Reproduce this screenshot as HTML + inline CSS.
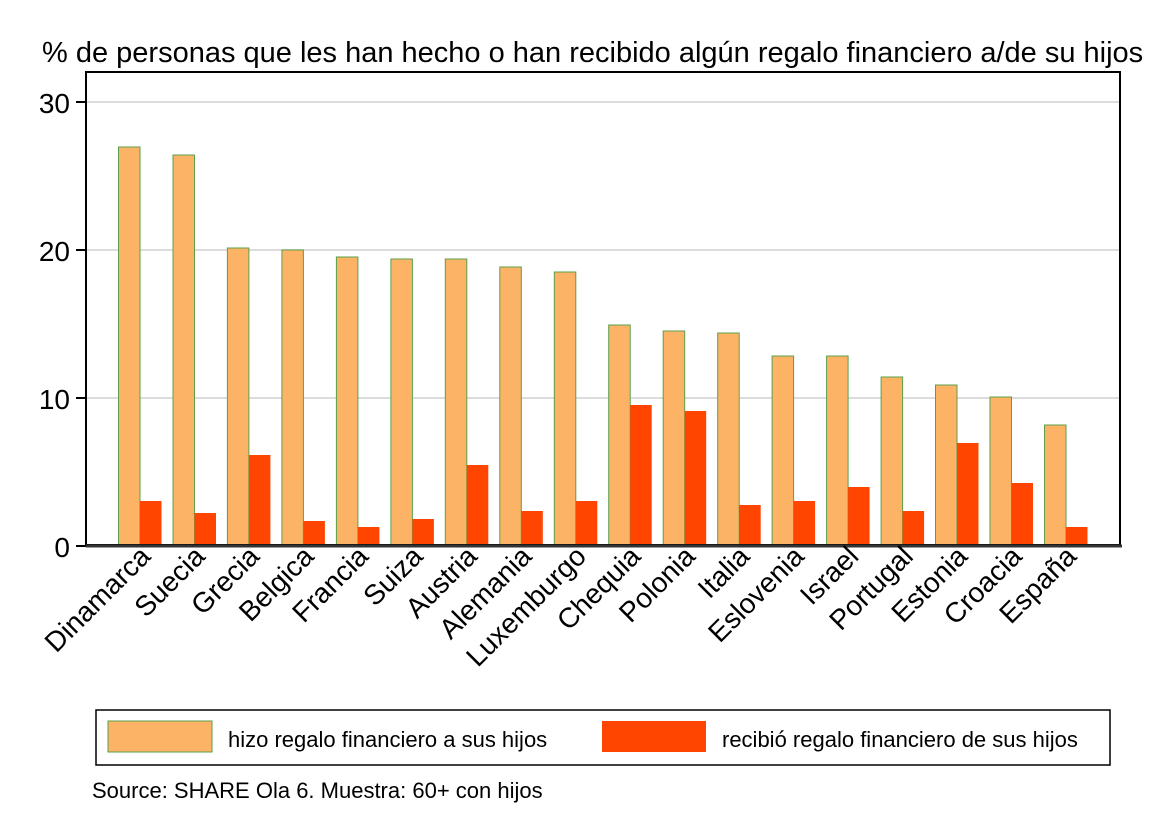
<!DOCTYPE html>
<html><head><meta charset="utf-8"><style>body{margin:0;background:#fff}svg{display:block;font-family:"Liberation Sans",sans-serif}</style></head><body>
<svg width="1152" height="838" xmlns="http://www.w3.org/2000/svg">
<text x="42" y="62" font-size="29">% de personas que les han hecho o han recibido algún regalo financiero a/de su hijos</text>
<g stroke="#dcdcdc" stroke-width="2"><line x1="87" x2="1120" y1="102" y2="102"/><line x1="87" x2="1120" y1="250" y2="250"/><line x1="87" x2="1120" y1="398" y2="398"/></g>
<g fill="#fdb366" stroke="#5aa04a" stroke-width="1">
<rect x="118.5" y="147" width="21.5" height="398"/>
<rect x="173" y="155" width="21.5" height="390"/>
<rect x="227.4" y="248" width="21.5" height="297"/>
<rect x="281.9" y="250" width="21.5" height="295"/>
<rect x="336.4" y="257" width="21.5" height="288"/>
<rect x="390.9" y="259" width="21.5" height="286"/>
<rect x="445.3" y="259" width="21.5" height="286"/>
<rect x="499.8" y="267" width="21.5" height="278"/>
<rect x="554.3" y="272" width="21.5" height="273"/>
<rect x="608.7" y="325" width="21.5" height="220"/>
<rect x="663.2" y="331" width="21.5" height="214"/>
<rect x="717.7" y="333" width="21.5" height="212"/>
<rect x="772.1" y="356" width="21.5" height="189"/>
<rect x="826.6" y="356" width="21.5" height="189"/>
<rect x="881.1" y="377" width="21.5" height="168"/>
<rect x="935.5" y="385" width="21.5" height="160"/>
<rect x="990" y="397" width="21.5" height="148"/>
<rect x="1044.5" y="425" width="21.5" height="120"/>
</g>
<g fill="#ff4500">
<rect x="140" y="501" width="21.5" height="44"/>
<rect x="194.5" y="513" width="21.5" height="32"/>
<rect x="248.9" y="455" width="21.5" height="90"/>
<rect x="303.4" y="521" width="21.5" height="24"/>
<rect x="357.9" y="527" width="21.5" height="18"/>
<rect x="412.4" y="519" width="21.5" height="26"/>
<rect x="466.8" y="465" width="21.5" height="80"/>
<rect x="521.3" y="511" width="21.5" height="34"/>
<rect x="575.8" y="501" width="21.5" height="44"/>
<rect x="630.2" y="405" width="21.5" height="140"/>
<rect x="684.7" y="411" width="21.5" height="134"/>
<rect x="739.2" y="505" width="21.5" height="40"/>
<rect x="793.6" y="501" width="21.5" height="44"/>
<rect x="848.1" y="487" width="21.5" height="58"/>
<rect x="902.6" y="511" width="21.5" height="34"/>
<rect x="957" y="443" width="21.5" height="102"/>
<rect x="1011.5" y="483" width="21.5" height="62"/>
<rect x="1066" y="527" width="21.5" height="18"/>
</g>
<rect x="86" y="72" width="1034" height="473" fill="none" stroke="#000" stroke-width="2"/>
<line x1="86" x2="1122" y1="546" y2="546" stroke="#333" stroke-width="3"/>
<g stroke="#000" stroke-width="2"><line x1="76" x2="86" y1="102" y2="102"/><line x1="76" x2="86" y1="250" y2="250"/><line x1="76" x2="86" y1="398" y2="398"/><line x1="76" x2="86" y1="546" y2="546"/></g>
<g font-size="28" text-anchor="end"><text x="70" y="113">30</text><text x="70" y="261">20</text><text x="70" y="409">10</text><text x="70" y="557">0</text></g>
<g font-size="28" text-anchor="end">
<text transform="translate(152,558) rotate(-45)">Dinamarca</text>
<text transform="translate(206.5,558) rotate(-45)">Suecia</text>
<text transform="translate(260.9,558) rotate(-45)">Grecia</text>
<text transform="translate(315.4,558) rotate(-45)">Belgica</text>
<text transform="translate(369.9,558) rotate(-45)">Francia</text>
<text transform="translate(424.4,558) rotate(-45)">Suiza</text>
<text transform="translate(478.8,558) rotate(-45)">Austria</text>
<text transform="translate(533.3,558) rotate(-45)">Alemania</text>
<text transform="translate(587.8,558) rotate(-45)">Luxemburgo</text>
<text transform="translate(642.2,558) rotate(-45)">Chequia</text>
<text transform="translate(696.7,558) rotate(-45)">Polonia</text>
<text transform="translate(751.2,558) rotate(-45)">Italia</text>
<text transform="translate(805.6,558) rotate(-45)">Eslovenia</text>
<text transform="translate(860.1,558) rotate(-45)">Israel</text>
<text transform="translate(914.6,558) rotate(-45)">Portugal</text>
<text transform="translate(969,558) rotate(-45)">Estonia</text>
<text transform="translate(1023.5,558) rotate(-45)">Croacia</text>
<text transform="translate(1078,558) rotate(-45)">España</text>
</g>
<rect x="96" y="710" width="1014" height="55" fill="none" stroke="#000" stroke-width="1.5"/>
<rect x="108" y="721" width="104" height="31" fill="#fdb366" stroke="#5aa04a"/>
<text x="228" y="747" font-size="22">hizo regalo financiero a sus hijos</text>
<rect x="602" y="721" width="104" height="31" fill="#ff4500"/>
<text x="722" y="747" font-size="22">recibió regalo financiero de sus hijos</text>
<text x="92" y="798" font-size="22">Source: SHARE Ola 6. Muestra: 60+ con hijos</text>
</svg>
</body></html>
